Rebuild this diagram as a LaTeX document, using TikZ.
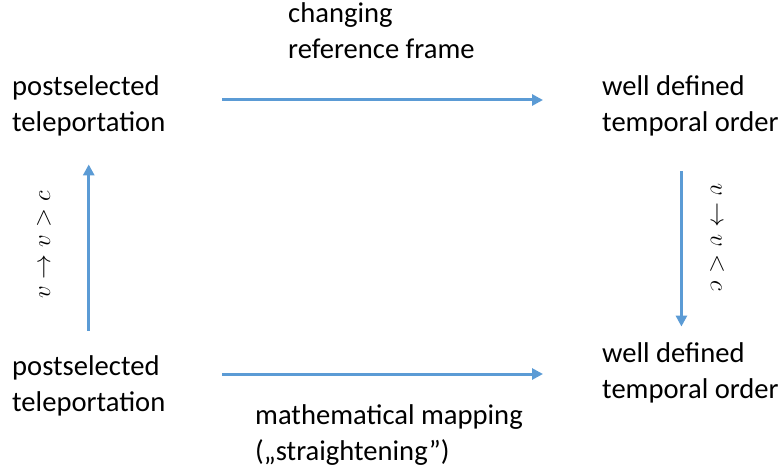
\documentclass[tikz,border=0pt]{standalone}
\usepackage{fontspec}
\setmainfont{Carlito}
\usetikzlibrary{arrows.meta}
\definecolor{officeblue}{HTML}{5B9BD5}
\begin{document}
\begin{tikzpicture}[
    x=1pt, y=-1pt,
    txt/.style={align=left, inner sep=0pt, font=\fontsize{28.6}{36}\selectfont},
    lbl/.style={inner sep=0pt, font=\fontsize{32}{36}\selectfont},
    flow/.style={-{Triangle[length=11pt,width=11pt]}, line width=3pt, draw=officeblue, officeblue}
]
    \useasboundingbox (0,0) rectangle (783,473);

    % Four corner statements
    \node[txt, anchor=west] (tl) at (12, 106) {postselected\\teleportation};
    \node[txt, anchor=west] (tr) at (602, 106) {well defined\\temporal order};
    \node[txt, anchor=west] (bl) at (12, 386) {postselected\\teleportation};
    \node[txt, anchor=west] (br) at (602, 373) {well defined\\temporal order};

    % Labels of the horizontal arrows
    \node[txt, anchor=west] (frame) at (288, 31) {changing\\reference frame};
    \node[txt, anchor=west] (mapping) at (255, 435) {mathematical mapping\\(„straightening”)};

    % Labels of the vertical arrows
    \node[lbl, rotate=90] (vleft) at (44, 245) {$v \to v > c$};
    \node[lbl, rotate=-90] (vright) at (717, 237) {$v \to v < c$};

    % Horizontal arrows
    \draw[flow, shorten <=57pt, shorten >=59pt] ([yshift=6pt]tl.east) -- ([yshift=6pt]tl.east -| tr.west);
    \draw[flow, shorten <=57pt, shorten >=59pt] ([yshift=12pt]bl.east) -- ([yshift=12pt]bl.east -| br.west);

    % Vertical arrows
    \draw[flow, shorten <=25pt, shorten >=28pt] (bl.north) -- (tl.south);
    \draw[flow, shorten <=35pt, shorten >=16pt] ([xshift=-9pt]tr.south) -- ([xshift=-9pt]tr.south |- br.north);

\end{tikzpicture}
\end{document}
